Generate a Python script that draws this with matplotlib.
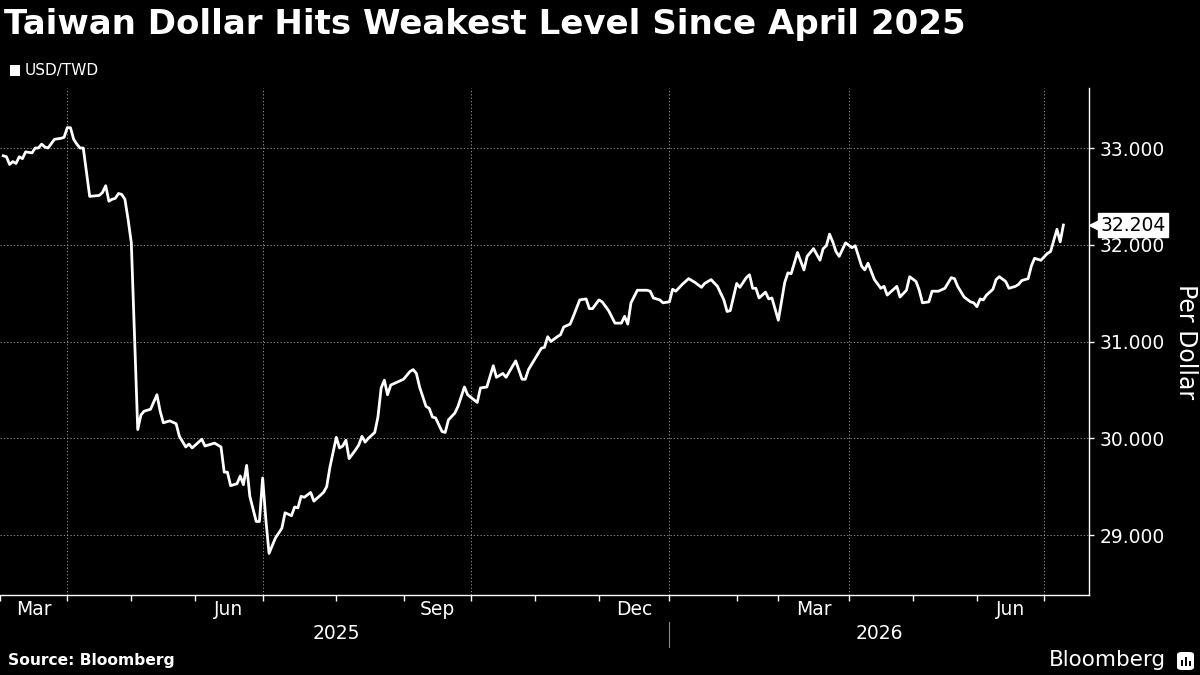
import numpy as np
import pandas as pd
import matplotlib
matplotlib.use("Agg")
from matplotlib import pyplot as plt
from matplotlib import transforms
from matplotlib.patches import Rectangle, FancyBboxPatch

plt.rcParams.update({
    "font.family": "DejaVu Sans",
    "text.color": "white",
    "axes.edgecolor": "white",
    "xtick.color": "white",
    "ytick.color": "white",
})

# Taiwan market closures (trading-day axis skips them)
HOLIDAYS = ["2025-04-03", "2025-04-04", "2025-05-01", "2025-05-30", "2025-09-29",
            "2025-10-06", "2025-10-10", "2025-10-24", "2025-12-25",
            "2026-01-01", "2026-02-13", "2026-02-16", "2026-02-17", "2026-02-18",
            "2026-02-19", "2026-02-20", "2026-02-27", "2026-04-03", "2026-04-06",
            "2026-05-01", "2026-06-19"]

dates = [
    "2025-03-04", "2025-03-05", "2025-03-06", "2025-03-07", "2025-03-10", "2025-03-11",
    "2025-03-12", "2025-03-13", "2025-03-17", "2025-03-18", "2025-03-19", "2025-03-20",
    "2025-03-21", "2025-03-24", "2025-03-26", "2025-03-28", "2025-03-31", "2025-04-01",
    "2025-04-02", "2025-04-07", "2025-04-08", "2025-04-09", "2025-04-10", "2025-04-14",
    "2025-04-17", "2025-04-18", "2025-04-21", "2025-04-22", "2025-04-23", "2025-04-24",
    "2025-04-25", "2025-04-28", "2025-04-29", "2025-04-30", "2025-05-02", "2025-05-05",
    "2025-05-06", "2025-05-07", "2025-05-08", "2025-05-12", "2025-05-14", "2025-05-15",
    "2025-05-16", "2025-05-20", "2025-05-22", "2025-05-23", "2025-05-27", "2025-05-28",
    "2025-05-29", "2025-06-04", "2025-06-05", "2025-06-10", "2025-06-12", "2025-06-13",
    "2025-06-16", "2025-06-17", "2025-06-19", "2025-06-20", "2025-06-23", "2025-06-24",
    "2025-06-25", "2025-06-27", "2025-06-30", "2025-07-01", "2025-07-02", "2025-07-03",
    "2025-07-07", "2025-07-09", "2025-07-10", "2025-07-14", "2025-07-15", "2025-07-16",
    "2025-07-17", "2025-07-18", "2025-07-22", "2025-07-23", "2025-07-28", "2025-07-29",
    "2025-07-30", "2025-08-01", "2025-08-04", "2025-08-05", "2025-08-06", "2025-08-07",
    "2025-08-11", "2025-08-12", "2025-08-13", "2025-08-14", "2025-08-15", "2025-08-19",
    "2025-08-20", "2025-08-21", "2025-08-22", "2025-08-25", "2025-08-26", "2025-08-28",
    "2025-09-01", "2025-09-03", "2025-09-04", "2025-09-05", "2025-09-08", "2025-09-10",
    "2025-09-11", "2025-09-12", "2025-09-15", "2025-09-17", "2025-09-18", "2025-09-19",
    "2025-09-23", "2025-09-24", "2025-09-26", "2025-09-30", "2025-10-03", "2025-10-07",
    "2025-10-09", "2025-10-14", "2025-10-15", "2025-10-17", "2025-10-20", "2025-10-23",
    "2025-10-28", "2025-10-29", "2025-10-30", "2025-11-03", "2025-11-05", "2025-11-06",
    "2025-11-07", "2025-11-10", "2025-11-12", "2025-11-13", "2025-11-14", "2025-11-18",
    "2025-11-19", "2025-11-21", "2025-11-25", "2025-11-26", "2025-11-27", "2025-12-01",
    "2025-12-02", "2025-12-04", "2025-12-08", "2025-12-10", "2025-12-11", "2025-12-12",
    "2025-12-15", "2025-12-17", "2025-12-22", "2025-12-23", "2025-12-24", "2025-12-29",
    "2025-12-30", "2026-01-02", "2026-01-05", "2026-01-06", "2026-01-08", "2026-01-12",
    "2026-01-14", "2026-01-16", "2026-01-19", "2026-01-21", "2026-01-23", "2026-01-27",
    "2026-01-28", "2026-01-29", "2026-02-02", "2026-02-03", "2026-02-05", "2026-02-06",
    "2026-02-09", "2026-02-10", "2026-02-11", "2026-02-23", "2026-02-24", "2026-02-25",
    "2026-03-02", "2026-03-04", "2026-03-05", "2026-03-06", "2026-03-10", "2026-03-12",
    "2026-03-13", "2026-03-17", "2026-03-19", "2026-03-20", "2026-03-23", "2026-03-24",
    "2026-03-25", "2026-03-26", "2026-03-27", "2026-03-31", "2026-04-02", "2026-04-07",
    "2026-04-09", "2026-04-10", "2026-04-13", "2026-04-15", "2026-04-17", "2026-04-20",
    "2026-04-21", "2026-04-24", "2026-04-27", "2026-04-29", "2026-04-30", "2026-05-05",
    "2026-05-06", "2026-05-07", "2026-05-11", "2026-05-12", "2026-05-14", "2026-05-18",
    "2026-05-20", "2026-05-21", "2026-05-22", "2026-05-26", "2026-05-28", "2026-05-29",
    "2026-06-01", "2026-06-02", "2026-06-03", "2026-06-04", "2026-06-08", "2026-06-09",
    "2026-06-10", "2026-06-12", "2026-06-15", "2026-06-17", "2026-06-18", "2026-06-22",
    "2026-06-24", "2026-06-25", "2026-06-26", "2026-06-30", "2026-07-02", "2026-07-03",
    "2026-07-07", "2026-07-08", "2026-07-09",
]

usd_twd = [
    32.92, 32.91, 32.83, 32.86, 32.84, 32.91,
    32.89, 32.96, 32.95, 33.00, 33.00, 33.04,
    33.01, 33.00, 33.09, 33.10, 33.11, 33.21,
    33.21, 33.09, 33.04, 33.00, 33.00, 32.50,
    32.51, 32.54, 32.61, 32.45, 32.47, 32.48,
    32.53, 32.52, 32.47, 32.26, 32.02, 31.05,
    30.09, 30.24, 30.28, 30.30, 30.45, 30.28,
    30.16, 30.18, 30.15, 30.02, 29.91, 29.94,
    29.90, 29.99, 29.92, 29.95, 29.91, 29.65,
    29.65, 29.51, 29.53, 29.61, 29.52, 29.72,
    29.40, 29.14, 29.14, 29.59, 29.16, 28.81,
    28.97, 29.07, 29.23, 29.20, 29.29, 29.28,
    29.40, 29.39, 29.44, 29.35, 29.44, 29.50,
    29.70, 30.01, 29.90, 29.92, 29.98, 29.79,
    29.88, 29.93, 30.02, 29.96, 30.00, 30.06,
    30.22, 30.52, 30.60, 30.45, 30.55, 30.58,
    30.61, 30.69, 30.71, 30.67, 30.53, 30.33,
    30.31, 30.22, 30.21, 30.07, 30.06, 30.19,
    30.26, 30.33, 30.53, 30.45, 30.37, 30.52,
    30.53, 30.75, 30.63, 30.67, 30.63, 30.80,
    30.61, 30.61, 30.71, 30.82, 30.93, 30.94,
    31.05, 31.00, 31.05, 31.07, 31.15, 31.18,
    31.26, 31.43, 31.44, 31.34, 31.34, 31.43,
    31.41, 31.32, 31.19, 31.19, 31.26, 31.18,
    31.40, 31.53, 31.53, 31.52, 31.45, 31.43,
    31.40, 31.41, 31.54, 31.52, 31.59, 31.65,
    31.61, 31.56, 31.60, 31.64, 31.57, 31.43,
    31.31, 31.32, 31.60, 31.56, 31.66, 31.69,
    31.55, 31.55, 31.45, 31.51, 31.44, 31.45,
    31.22, 31.61, 31.71, 31.70, 31.92, 31.74,
    31.88, 31.96, 31.84, 31.96, 31.99, 32.11,
    32.03, 31.93, 31.88, 32.02, 31.97, 31.99,
    31.78, 31.74, 31.81, 31.64, 31.55, 31.57,
    31.48, 31.57, 31.46, 31.53, 31.67, 31.62,
    31.53, 31.40, 31.41, 31.52, 31.52, 31.55,
    31.66, 31.65, 31.57, 31.46, 31.41, 31.40,
    31.36, 31.44, 31.43, 31.48, 31.54, 31.64,
    31.67, 31.62, 31.55, 31.57, 31.59, 31.63,
    31.65, 31.78, 31.86, 31.84, 31.91, 31.93,
    32.16, 32.03, 32.204,
]

y_ticks = [29, 30, 31, 32, 33]
title = "Taiwan Dollar Hits Weakest Level Since April 2025"

# trading-day calendar -> x positions
cal = pd.bdate_range("2025-03-03", "2026-07-31", freq="C", holidays=HOLIDAYS)
x = cal.get_indexer(pd.to_datetime(dates))
months = cal.to_period("M")
month_start = np.flatnonzero(np.r_[True, months[1:] != months[:-1]])
month_of = months[month_start]

fig = plt.figure(figsize=(12, 6.75), dpi=100, facecolor="black")
ax = fig.add_axes([0.0, 0.1185, 0.9075, 0.7511], facecolor="black")

ax.plot(x, usd_twd, color="white", lw=2.0, solid_joinstyle="round", zorder=3)

x_min, x_max = x[0], x[-1] + 8
ax.set_xlim(x_min, x_max)
ax.set_ylim(28.38, 33.62)

for s in ["left", "top"]:
    ax.spines[s].set_visible(False)
for s in ["right", "bottom"]:
    ax.spines[s].set_color("white")
    ax.spines[s].set_linewidth(1.0)

quarter = [m for m, p in zip(month_start, month_of) if p.month in (1, 4, 7, 10)]
other = [m for m, p in zip(month_start, month_of) if p.month not in (1, 4, 7, 10)]
ax.set_xticks(quarter)
ax.set_xticks(other, minor=True)
ax.set_xticklabels([])
ax.tick_params(axis="x", which="both", direction="out", length=4.5, width=1, color="white")

ax.yaxis.tick_right()
ax.set_yticks(y_ticks)
ax.set_yticklabels([f"{v:.3f}" for v in y_ticks], fontsize=13.5)
ax.tick_params(axis="y", direction="out", length=3.5, width=1, pad=4, labelcolor="white")
ax.yaxis.set_label_position("right")
ax.set_ylabel("Per Dollar", rotation=270, fontsize=17, color="white", labelpad=24)

ax.grid(True, which="major", color="#a8a8a8", lw=0.6, ls=(0, (1.5, 2.5)))

# month labels centred inside their month
xt = transforms.blended_transform_factory(ax.transData, ax.transAxes)
for k, p in enumerate(month_of[:-1]):
    if p.month in (3, 6, 9, 12):
        c = (month_start[k] + month_start[k + 1]) / 2
        ax.text(c, -0.028, p.strftime("%b"), transform=xt, ha="center", va="center",
                fontsize=13.5, color="white")

jan26 = month_start[list(month_of).index(pd.Period("2026-01", "M"))]
ax.text((x_min + jan26) / 2, -0.075, "2025", transform=xt, ha="center", va="center",
        fontsize=13.5, color="white")
ax.text((jan26 + x_max) / 2, -0.075, "2026", transform=xt, ha="center", va="center",
        fontsize=13.5, color="white")
ax.plot([jan26, jan26], [-0.053, -0.102], transform=xt, color="#8a8a8a", lw=0.8,
        clip_on=False)

# last value tag
last = usd_twd[-1]
yt = transforms.blended_transform_factory(ax.transAxes, ax.transData)
ax.annotate(f"{last:.3f}", xy=(1.0, last), xycoords=yt, xytext=(8, 0),
            textcoords="offset points", ha="left", va="center", fontsize=13.5,
            color="black", annotation_clip=False, zorder=6,
            bbox=dict(boxstyle="square,pad=0.12", fc="white", ec="white"))
tri = transforms.offset_copy(yt, fig=fig, x=6, y=0, units="dots")
ax.plot([1.0], [last], marker="<", ms=9, color="white", transform=tri,
        clip_on=False, zorder=6)

# header / footer
fig.text(0.003, 0.963, title, fontsize=24.5, fontweight="bold", color="white",
         ha="left", va="center")
fig.add_artist(Rectangle((10 / 1200, 1 - 76 / 675), 10 / 1200, 11 / 675,
                         transform=fig.transFigure, fc="white", ec="none"))
fig.text(25 / 1200, 1 - 70 / 675, "USD/TWD", fontsize=11, color="white",
         ha="left", va="center")
fig.text(8 / 1200, 1 - 661 / 675, "Source: Bloomberg", fontsize=11.2,
         fontweight="bold", color="white", ha="left", va="center")
fig.text(1166 / 1200, 1 - 660 / 675, "Bloomberg", fontsize=15.5, color="white",
         ha="right", va="center")
fig.add_artist(FancyBboxPatch((1177 / 1200, 1 - 670 / 675), 17 / 1200, 18 / 675,
                              boxstyle="round,pad=0,rounding_size=0.004",
                              transform=fig.transFigure, fc="white", ec="none"))
for bx, bh in [(1181, 6), (1185, 9), (1189, 5)]:
    fig.add_artist(Rectangle((bx / 1200, 1 - 666 / 675), 2 / 1200, bh / 675,
                             transform=fig.transFigure, fc="black", ec="none"))

fig.savefig("out.png", dpi=100, facecolor="black")
